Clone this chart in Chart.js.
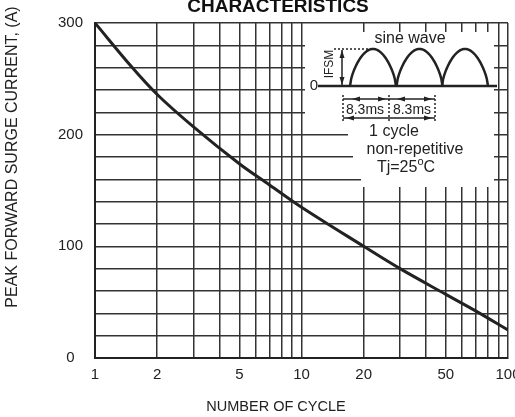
<!DOCTYPE html>
<html>
<head>
<meta charset="utf-8">
<script src="https://cdn.jsdelivr.net/npm/chart.js@4.4.1/dist/chart.umd.min.js"></script>
<style>
  html, body { margin: 0; padding: 0; background: #fff; }
</style>
</head>
<body>
<canvas id="surgeChart" width="515" height="417"></canvas>
<script>
// number of cycles vs peak forward surge current
const cycles = [1, 1.5, 2, 3, 5, 7, 10, 20, 30, 50, 70, 100];
const surgeCurrent = [300, 261, 236, 207, 174, 155, 135, 100, 80, 57, 42, 25];

// log grid lines and which of them carry a label
const xGridValues = [1, 2, 3, 4, 5, 6, 7, 8, 9, 10, 20, 30, 40, 50, 60, 70, 80, 90, 100];
const xTickLabels = [1, 2, 5, 10, 20, 50, 100];
const yTickLabels = [0, 100, 200, 300];

const ink = "#222";
const tickFont = { family: "'Liberation Sans', Arial", size: 15 };

function arrowHead(ctx, x, y, dir) {
  // dir: 1 right, -1 left, 2 down, -2 up
  ctx.beginPath();
  if (Math.abs(dir) === 1) {
    ctx.moveTo(x, y);
    ctx.lineTo(x - dir * 8, y - 2.5);
    ctx.lineTo(x - dir * 8, y + 2.5);
  } else {
    const d = dir / 2;
    ctx.moveTo(x, y);
    ctx.lineTo(x - 2.5, y - d * 8);
    ctx.lineTo(x + 2.5, y - d * 8);
  }
  ctx.closePath();
  ctx.fill();
}

function hLine(ctx, x0, x1, y) {
  ctx.beginPath();
  ctx.moveTo(x0, y);
  ctx.lineTo(x1, y);
  ctx.stroke();
}

const insetPlugin = {
  id: "inset",
  beforeDatasetsDraw(chart) {
    const ctx = chart.ctx;
    ctx.save();

    // white patch over the grid behind the inset
    ctx.fillStyle = "#fff";
    const patch = [[305, 32], [494, 32], [494, 187], [361, 187], [361, 168], [353, 168],
      [353, 146], [348, 146], [348, 124], [305, 124]];
    ctx.beginPath();
    patch.forEach(([x, y], i) => (i ? ctx.lineTo(x, y) : ctx.moveTo(x, y)));
    ctx.closePath();
    ctx.fill();

    ctx.strokeStyle = ink;
    ctx.fillStyle = ink;

    // baseline + three half-sine humps
    const base = 86, amp = 37;
    ctx.lineWidth = 2.5;
    hLine(ctx, 318, 497, base);
    [350, 396.5, 442].forEach(x0 => {
      ctx.beginPath();
      for (let i = 0; i <= 40; i++) {
        const t = i / 40;
        const y = base - amp * Math.pow(Math.sin(Math.PI * t), 0.65);
        i ? ctx.lineTo(x0 + t * 46, y) : ctx.moveTo(x0, y);
      }
      ctx.stroke();
    });

    // peak dotted line and IFSM arrow
    ctx.lineWidth = 1.5;
    ctx.setLineDash([2, 2]);
    hLine(ctx, 334, 368, 49);
    [343, 389, 435].forEach(x => {
      ctx.beginPath();
      ctx.moveTo(x, 95);
      ctx.lineTo(x, 122);
      ctx.stroke();
    });
    ctx.setLineDash([]);
    ctx.beginPath();
    ctx.moveTo(342, 50);
    ctx.lineTo(342, 85);
    ctx.stroke();
    arrowHead(ctx, 342, 50, -2);
    arrowHead(ctx, 342, 85, 2);

    // dimension arrows
    hLine(ctx, 343, 435, 99);
    arrowHead(ctx, 352, 99, -1);
    arrowHead(ctx, 386, 99, 1);
    arrowHead(ctx, 397, 99, -1);
    arrowHead(ctx, 432, 99, 1);
    hLine(ctx, 343, 435, 118);
    arrowHead(ctx, 346, 118, -1);
    arrowHead(ctx, 432, 118, 1);

    // texts
    const f = "'Liberation Sans', Arial";
    ctx.textBaseline = "middle";
    ctx.textAlign = "center";
    ctx.font = `15px ${f}`;
    ctx.fillText("0", 314, 86);
    ctx.font = `16px ${f}`;
    ctx.fillText("sine wave", 410, 39);
    ctx.font = `14px ${f}`;
    ctx.fillText("8.3ms", 365, 110);
    ctx.fillText("8.3ms", 412, 110);
    ctx.font = `16px ${f}`;
    ctx.fillText("1 cycle", 394, 132);
    ctx.fillText("non-repetitive", 415, 150);

    // Tj=25°C with superscript o
    ctx.textAlign = "left";
    const a = "Tj=25";
    const wa = ctx.measureText(a).width;
    ctx.font = `11px ${f}`;
    const wo = ctx.measureText("o").width;
    ctx.font = `16px ${f}`;
    const wc = ctx.measureText("C").width;
    let x = 406 - (wa + wo + wc) / 2;
    ctx.fillText(a, x, 168);
    ctx.font = `11px ${f}`;
    ctx.fillText("o", x + wa, 162);
    ctx.font = `16px ${f}`;
    ctx.fillText("C", x + wa + wo, 168);

    // rotated IFSM
    ctx.save();
    ctx.translate(330, 64);
    ctx.rotate(-Math.PI / 2);
    ctx.textAlign = "center";
    ctx.font = `12px ${f}`;
    ctx.fillText("IFSM", 0, 0);
    ctx.restore();

    ctx.restore();
  },
  afterDraw(chart) {
    const ctx = chart.ctx;
    ctx.save();
    ctx.fillStyle = "#111";
    ctx.textAlign = "center";
    ctx.textBaseline = "alphabetic";
    ctx.font = "bold 19px 'Liberation Sans', Arial";
    ctx.fillText("CHARACTERISTICS", 278, 12);

    ctx.fillStyle = ink;
    ctx.textBaseline = "middle";
    ctx.font = "14.5px 'Liberation Sans', Arial";
    ctx.fillText("NUMBER OF CYCLE", 276, 407);

    ctx.translate(13, 157);
    ctx.rotate(-Math.PI / 2);
    ctx.font = "16px 'Liberation Sans', Arial";
    ctx.fillText("PEAK FORWARD SURGE CURRENT, (A)", 0, 0);
    ctx.restore();
  }
};

const ctx = document.getElementById("surgeChart").getContext("2d");

new Chart(ctx, {
  type: "line",
  data: {
    datasets: [{
      data: cycles.map((c, i) => ({ x: c, y: surgeCurrent[i] })),
      borderColor: ink,
      borderWidth: 3,
      pointRadius: 0,
      tension: 0.35,
      fill: false
    }]
  },
  options: {
    responsive: false,
    animation: false,
    layout: { padding: { left: 0, right: 7, top: 23, bottom: 0 } },
    plugins: {
      legend: { display: false },
      tooltip: { enabled: false }
    },
    scales: {
      x: {
        type: "logarithmic",
        min: 1,
        max: 100,
        afterBuildTicks: scale => {
          scale.ticks = xGridValues.map(v => ({ value: v }));
        },
        afterFit: scale => {
          scale.height = 59;
          scale.paddingLeft = 0;
          scale.paddingRight = 0;
        },
        ticks: {
          autoSkip: false,
          maxRotation: 0,
          padding: 8,
          color: ink,
          font: tickFont,
          callback: v => (xTickLabels.includes(v) ? String(v) : "")
        },
        grid: { color: "#333", lineWidth: 1.5, drawTicks: false },
        border: { color: ink, width: 2 }
      },
      y: {
        min: 0,
        max: 300,
        afterFit: scale => {
          scale.width = 95;
        },
        ticks: {
          stepSize: 20,
          padding: 12,
          crossAlign: "center",
          color: ink,
          font: tickFont,
          callback: v => (yTickLabels.includes(v) ? String(v) : "")
        },
        grid: { color: "#333", lineWidth: 1.5, drawTicks: false },
        border: { color: ink, width: 2 }
      }
    }
  },
  plugins: [insetPlugin]
});
</script>
</body>
</html>
